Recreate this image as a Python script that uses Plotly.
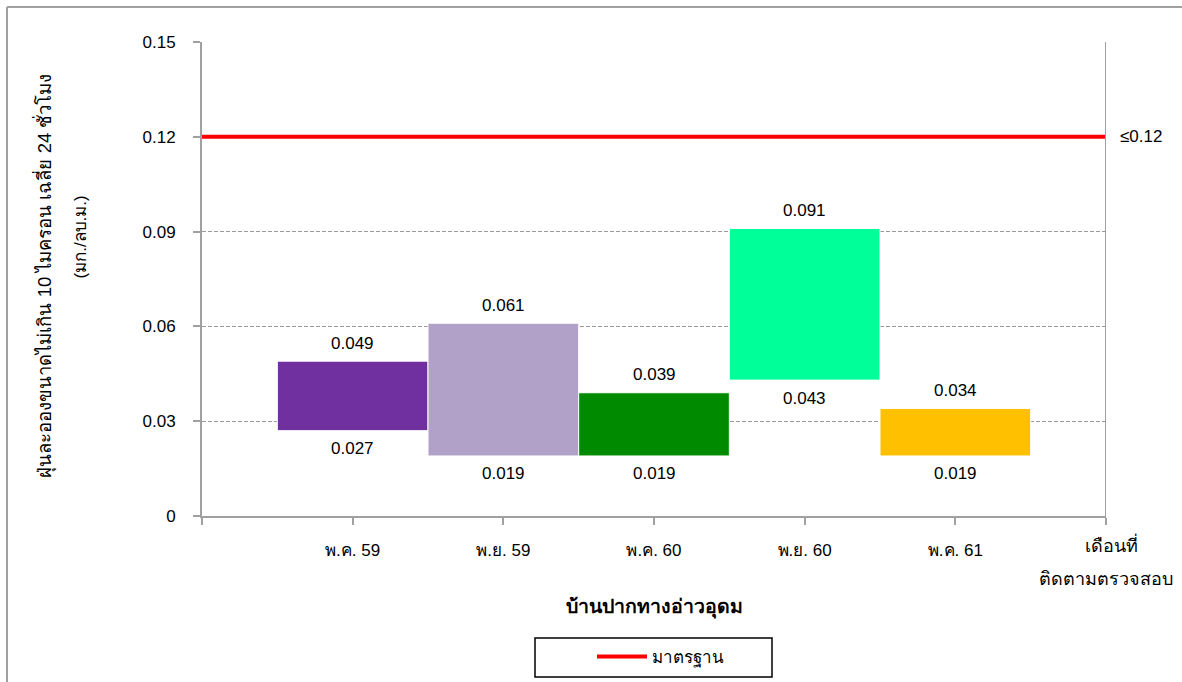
import plotly.graph_objects as go

categories = ["พ.ค. 59", "พ.ย. 59", "พ.ค. 60", "พ.ย. 60", "พ.ค. 61"]
low_values = [0.027, 0.019, 0.019, 0.043, 0.019]
high_values = [0.049, 0.061, 0.039, 0.091, 0.034]
bar_colors = ["#7030A0", "#B1A0C7", "#008A00", "#00FF99", "#FFC000"]
standard_value = 0.12
standard_name = "มาตรฐาน"
y_ticks = [0, 0.03, 0.06, 0.09, 0.12, 0.15]
y_ticktext = ["0", "0.03", "0.06", "0.09", "0.12", "0.15"]
x_title = "บ้านปากทางอ่าวอุดม"
x_end_label = ["เดือนที่", "ติดตามตรวจสอบ"]
y_title = ["ฝุ่นละอองขนาดไม่เกิน 10 ไมครอน เฉลี่ย 24 ชั่วโมง", "(มก./ลบ.ม.)"]

FONT = "Liberation Sans, Arial, sans-serif"
xpos = list(range(1, len(categories) + 1))

fig = go.Figure()
for i, (c, lo, hi, col) in enumerate(zip(categories, low_values, high_values, bar_colors)):
    fig.add_trace(go.Bar(
        x=[xpos[i]], y=[hi - lo], base=[lo], width=1.0,
        marker=dict(color=col, line=dict(color="white", width=1)),
        showlegend=False, hoverinfo="skip", name=c,
    ))

fig.add_trace(go.Scatter(
    x=[0, len(categories) + 1], y=[standard_value, standard_value],
    mode="lines", line=dict(color="#FF0000", width=4), name=standard_name,
    showlegend=True,
))

annotations = []
for i, (lo, hi) in enumerate(zip(low_values, high_values)):
    annotations.append(dict(x=xpos[i], y=hi, text=f"{hi:.3f}", showarrow=False,
                            yshift=18, font=dict(size=17, color="black", family=FONT)))
    annotations.append(dict(x=xpos[i], y=lo, text=f"{lo:.3f}", showarrow=False,
                            yshift=-18, font=dict(size=17, color="black", family=FONT)))

annotations.append(dict(x=len(categories) + 1, xref="x", y=standard_value, yref="y",
                        text=f"≤{standard_value:.2f}", showarrow=False, xanchor="left",
                        xshift=12, font=dict(size=17, color="black", family=FONT)))

# x end label (two lines)
annotations.append(dict(x=len(categories) + 1, xref="x", y=558, yref="paper",
                        text=x_end_label[0], showarrow=False, xshift=5,
                        font=dict(size=18, color="black", family=FONT)))
annotations.append(dict(x=len(categories) + 1, xref="x", y=591, yref="paper",
                        text=x_end_label[1], showarrow=False,
                        font=dict(size=18, color="black", family=FONT)))
# x title
annotations.append(dict(x=0.5, xref="paper", y=621, yref="paper", text=f"<b>{x_title}</b>",
                        showarrow=False, font=dict(size=19.5, color="black", family=FONT)))
# y title lines
annotations.append(dict(x=29, xref="paper", y=276, yref="paper", text=y_title[0],
                        textangle=-90, showarrow=False,
                        font=dict(size=18.5, color="black", family=FONT)))
annotations.append(dict(x=68, xref="paper", y=237, yref="paper", text=y_title[1],
                        textangle=-90, showarrow=False,
                        font=dict(size=17, color="black", family=FONT)))

# convert pixel positions for paper-ref annotations
L, R, T, B = 202, 76, 42, 166
W, H = 1182, 682
pw, ph = W - L - R, H - T - B
for a in annotations:
    if a.get("yref") == "paper" and a["y"] > 2:
        a["y"] = (H - B - a["y"]) / ph
    if a.get("xref") == "paper" and a["x"] > 2:
        a["x"] = (a["x"] - L) / pw


def px(x):
    return (x - L) / pw


def py(y):
    return (H - B - y) / ph


shapes = [
    dict(type="line", xref="x", yref="y", x0=len(categories) + 1, x1=len(categories) + 1,
         y0=0, y1=0.15, line=dict(color="#A0A0A0", width=2)),
    dict(type="line", xref="paper", yref="paper", x0=px(7), x1=px(1300),
         y0=py(7), y1=py(7), line=dict(color="#A0A0A0", width=2)),
    dict(type="line", xref="paper", yref="paper", x0=px(7), x1=px(7),
         y0=py(7), y1=py(800), line=dict(color="#A0A0A0", width=2)),
    # legend frame
    dict(type="rect", xref="paper", yref="paper", x0=px(535), x1=px(772),
         y0=py(638), y1=py(677), line=dict(color="black", width=1.5)),
]

fig.update_layout(
    width=W, height=H,
    margin=dict(l=L, r=R, t=T, b=B, autoexpand=False),
    paper_bgcolor="white", plot_bgcolor="white",
    font=dict(family=FONT, size=17, color="black"),
    barmode="overlay",
    annotations=annotations,
    shapes=shapes,
    legend=dict(orientation="h", x=px(592), xanchor="left", y=py(657),
                yanchor="middle", borderwidth=0, bgcolor="rgba(0,0,0,0)",
                font=dict(size=17, family=FONT), itemwidth=50),
    xaxis=dict(range=[0, len(categories) + 1], tickmode="array",
               tickvals=[0] + xpos + [len(categories) + 1],
               ticktext=[""] + categories + [""],
               showline=True, linecolor="#A0A0A0", linewidth=2,
               ticks="outside", ticklen=7, tickcolor="#A0A0A0", tickwidth=2,
               showgrid=False, zeroline=False, ticklabelstandoff=11,
               tickfont=dict(size=17)),
    yaxis=dict(range=[0, 0.15], tickmode="array", tickvals=y_ticks, ticktext=y_ticktext,
               showline=True, linecolor="#A0A0A0", linewidth=2,
               ticks="outside", ticklen=7, tickcolor="#A0A0A0", tickwidth=2,
               showgrid=True, gridcolor="#999999", griddash="4px,2px", gridwidth=1,
               zeroline=False, ticklabelstandoff=14, tickfont=dict(size=17)),
)

fig.write_html("out.html", config={"displayModeBar": False},
               post_script="document.body.style.margin='0';")
